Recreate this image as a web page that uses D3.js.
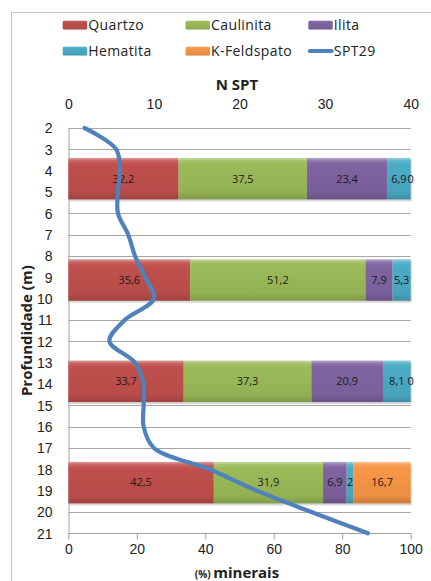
<!DOCTYPE html>
<html>
<head>
<meta charset="utf-8">
<script src="https://cdn.jsdelivr.net/npm/d3@7"></script>
<style>
  html, body { margin: 0; padding: 0; background: #fff; }
  svg { display: block; font-family: "Open Sans", "Noto Sans", sans-serif; }
</style>
</head>
<body>
<svg id="chart" width="431" height="581"></svg>
<script>
// Mineral composition (%) of four samples, stacked per sample
const samples = ["A1", "A2", "A3", "A4"];
const quartzo = [32.2, 35.6, 33.7, 42.5];
const caulinita = [37.5, 51.2, 37.3, 31.9];
const ilita = [23.4, 7.9, 20.9, 6.9];
const hematita = [6.9, 5.3, 8.1, 2];
const kFeldspato = [0, null, 0, 16.7];

const mineralNames = ["Quartzo", "Caulinita", "Ilita", "Hematita", "K-Feldspato"];
const mineralColors = ["#C0504D", "#9BBB59", "#8064A2", "#4BACC6", "#F79646"];

// SPT29 blow count profile
const sptDepth = [2, 3, 4, 5, 6, 7, 8, 9, 10, 11, 12, 13, 14, 15, 16, 17, 18, 19, 20, 21];
const sptN = [1.9, 5.6, 6.0, 5.8, 5.8, 7.0, 7.8, 9.0, 10.0, 6.6, 4.8, 7.8, 8.8, 8.8, 8.8, 10.0, 16.5, 22.0, 28.4, 35.0];
const sptColor = "#4F81BD";

const depthTicks = d3.range(2, 22);
const pctTicks = [0, 20, 40, 60, 80, 100];
const nTicks = [0, 10, 20, 30, 40];

const svg = d3.select("#chart");
const fmt = v => String(v).replace(".", ",");

const plotLeft = 68.3, plotRight = 410.7, plotTop = 128, plotBottom = 533.3;
const y = d3.scaleLinear().domain([2, 21]).range([plotTop, plotBottom]);
const xPct = d3.scaleLinear().domain([0, 100]).range([plotLeft, plotRight]);
const xN = d3.scaleLinear().domain([0, 40]).range([plotLeft, plotRight]);
const band = d3.scaleBand().domain(samples).range([plotTop, plotBottom])
  .paddingInner(0.59).paddingOuter(0.295);

// bevel-like gradients for each mineral colour
const defs = svg.append("defs");
mineralColors.forEach((c, i) => {
  const g = defs.append("linearGradient").attr("id", "grad" + i)
    .attr("x1", 0).attr("y1", 0).attr("x2", 0).attr("y2", 1);
  const base = d3.color(c);
  g.append("stop").attr("offset", "0%").attr("stop-color", d3.interpolateRgb(c, "#fff")(0.45));
  g.append("stop").attr("offset", "7%").attr("stop-color", d3.interpolateRgb(c, "#fff")(0.12));
  g.append("stop").attr("offset", "15%").attr("stop-color", base.formatHex());
  g.append("stop").attr("offset", "82%").attr("stop-color", base.darker(0.15).formatHex());
  g.append("stop").attr("offset", "100%").attr("stop-color", base.darker(0.55).formatHex());
});

// chart frame
svg.append("rect").attr("x", 11.5).attr("y", 12.5).attr("width", 440).attr("height", 590)
  .attr("fill", "none").attr("stroke", "#c4c4c4");

// horizontal gridlines at every metre
svg.append("g").selectAll("line").data(depthTicks).join("line")
  .attr("x1", plotLeft).attr("x2", plotRight)
  .attr("y1", d => Math.round(y(d)) + 0.5).attr("y2", d => Math.round(y(d)) + 0.5)
  .attr("stroke", "#a6a6a6").attr("stroke-width", 1);

// left axis
const yAxis = d3.axisLeft(y).tickValues(depthTicks).tickSize(0).tickPadding(16);
const gy = svg.append("g").attr("transform", `translate(${Math.round(plotLeft) + 0.5},0)`).call(yAxis);
gy.select(".domain").attr("stroke", "#a0a0a0");
gy.selectAll("text").attr("font-size", 14).attr("fill", "#222").attr("dy", "0.35em");

// bottom axis (%)
const xAxis = d3.axisBottom(xPct).tickValues(pctTicks).tickSize(6).tickPadding(5);
const gx = svg.append("g").attr("transform", `translate(0,${Math.round(plotBottom) + 0.5})`).call(xAxis);
gx.select(".domain").attr("stroke", "#a0a0a0").attr("d", `M${plotLeft},0H${plotRight}`);
gx.selectAll("line").attr("stroke", "#a0a0a0");
gx.selectAll("text").attr("font-size", 14).attr("fill", "#222");

// top axis (N SPT)
const xTop = d3.axisTop(xN).tickValues(nTicks).tickSize(0).tickPadding(19);
const gt = svg.append("g").attr("transform", `translate(0,${plotTop})`).call(xTop);
gt.select(".domain").remove();
gt.selectAll("text").attr("font-size", 14).attr("fill", "#222");

// stacked bars
const series = [quartzo, caulinita, ilita, hematita, kFeldspato];
const stacked = samples.map((s, i) => {
  let acc = 0;
  return series.map((arr, k) => {
    const v = arr[i];
    const x0 = acc;
    acc += v || 0;
    return { sample: s, k, v, x0, x1: acc };
  });
});

const barG = svg.append("g");
// soft shadow below each bar
barG.selectAll("rect.shadow").data(samples).join("rect").attr("class", "shadow")
  .attr("x", xPct(0) + 1).attr("width", xPct(100) - xPct(0))
  .attr("y", d => band(d) + 2).attr("height", band.bandwidth())
  .attr("fill", "#c8c8c8").attr("opacity", 0.7);

const segs = stacked.flat().filter(d => d.v);
barG.selectAll("rect.seg").data(segs).join("rect").attr("class", "seg")
  .attr("x", d => xPct(d.x0)).attr("width", d => xPct(d.x1) - xPct(d.x0))
  .attr("y", d => band(d.sample)).attr("height", band.bandwidth())
  .attr("fill", d => `url(#grad${d.k})`);

// value labels
const labels = stacked.flat().filter(d => d.v !== null && d.v !== undefined);
svg.append("g").selectAll("text").data(labels).join("text")
  .attr("x", d => xPct((d.x0 + d.x1) / 2))
  .attr("y", d => band(d.sample) + band.bandwidth() / 2)
  .attr("dy", "0.35em").attr("text-anchor", "middle")
  .attr("font-size", 11).attr("fill", "#1a1a1a")
  .text(d => fmt(d.v));

// SPT29 profile
const line = d3.line().x((d, i) => xN(sptN[i])).y(d => y(d)).curve(d3.curveCatmullRom.alpha(0.5));
svg.append("path").datum(sptDepth).attr("d", line)
  .attr("fill", "none").attr("stroke", sptColor).attr("stroke-width", 4.2)
  .attr("stroke-linecap", "round").attr("stroke-linejoin", "round");

// axis titles
svg.append("text").attr("x", 237).attr("y", 90).attr("text-anchor", "middle")
  .attr("font-size", 15).attr("font-weight", "bold").attr("fill", "#222").text("N SPT");

svg.append("text").attr("transform", `translate(32,${(plotTop + plotBottom) / 2}) rotate(-90)`)
  .attr("text-anchor", "middle").attr("font-size", 15).attr("font-weight", "bold")
  .attr("fill", "#222").text("Profundidade (m)");

const xt = svg.append("text").attr("x", 237).attr("y", 578).attr("text-anchor", "middle")
  .attr("fill", "#222").attr("font-weight", "bold");
xt.append("tspan").attr("font-size", 10).text("(%) ");
xt.append("tspan").attr("font-size", 15).text("minerais");

// legend
const legendItems = mineralNames.map((n, i) => ({ name: n, color: i, type: "bar" }))
  .concat([{ name: "SPT29", type: "line" }]);
const lx = [62.7, 185.5, 308.3], ly = [25, 51];
const lg = svg.append("g").selectAll("g").data(legendItems).join("g")
  .attr("transform", (d, i) => `translate(${lx[i % 3]},${ly[Math.floor(i / 3)]})`);
lg.filter(d => d.type === "bar").append("rect")
  .attr("x", 0).attr("y", -4.5).attr("width", 24.5).attr("height", 9).attr("rx", 1.5)
  .attr("fill", d => `url(#grad${d.color})`);
lg.filter(d => d.type === "line").append("line")
  .attr("x1", 1.5).attr("x2", 23.5).attr("y1", 0).attr("y2", 0)
  .attr("stroke", sptColor).attr("stroke-width", 4).attr("stroke-linecap", "round");
lg.append("text").attr("x", 25.5).attr("y", 0).attr("dy", "0.35em")
  .attr("font-size", 14).attr("letter-spacing", 0.4).attr("fill", "#222").text(d => d.name);
</script>
</body>
</html>
